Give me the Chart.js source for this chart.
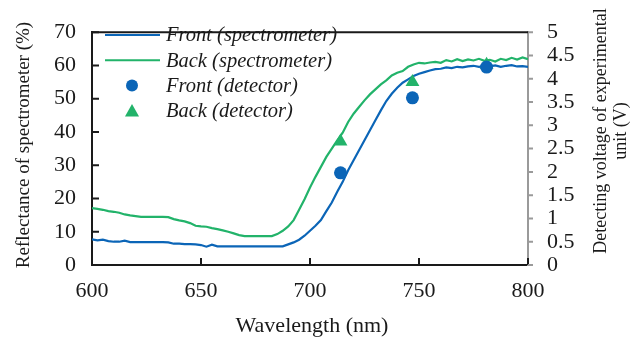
<!DOCTYPE html>
<html>
<head>
<meta charset="utf-8">
<script src="https://cdn.jsdelivr.net/npm/chart.js@4/dist/chart.umd.min.js"></script>
<style>
  html, body { margin: 0; padding: 0; background: #fff; }
  #wrap { width: 640px; height: 343px; }
</style>
</head>
<body>
<div id="wrap"><canvas id="chart" width="640" height="343"></canvas></div>
<script>
// wavelength grid of the spectrometer curves (nm)
const wavelengths = [
  600, 602.5, 605, 607.5, 610, 612.5, 615, 617.5, 620, 622.5,
  625, 627.5, 630, 632.5, 635, 637.5, 640, 642.5, 645, 647.5,
  650, 652.5, 655, 657.5, 660, 662.5, 665, 667.5, 670, 672.5,
  675, 677.5, 680, 682.5, 685, 687.5, 690, 692.5, 695, 697.5,
  700, 702.5, 705, 707.5, 710, 712.5, 715, 717.5, 720, 722.5,
  725, 727.5, 730, 732.5, 735, 737.5, 740, 742.5, 745, 747.5,
  750, 752.5, 755, 757.5, 760, 762.5, 765, 767.5, 770, 772.5,
  775, 777.5, 780, 782.5, 785, 787.5, 790, 792.5, 795, 797.5, 800
];

// reflectance (%)
const frontSpectrometer = [
  7.7, 7.4, 7.6, 7.2, 7.0, 7.0, 7.3, 6.9, 6.9, 6.9,
  6.9, 6.9, 6.9, 6.9, 6.8, 6.4, 6.4, 6.3, 6.3, 6.2,
  6.0, 5.5, 6.1, 5.6, 5.6, 5.6, 5.6, 5.6, 5.6, 5.6,
  5.6, 5.6, 5.6, 5.6, 5.6, 5.6, 6.2, 6.8, 7.6, 8.8,
  10.3, 11.8, 13.5, 16.2, 18.8, 22.0, 25.0, 28.5, 31.5, 34.5,
  37.5, 40.5, 43.5, 46.5, 49.3, 51.5, 53.3, 54.8, 55.8, 56.8,
  57.5, 58.0, 58.5, 58.9, 59.0, 59.4, 59.2, 59.6, 59.4, 59.7,
  59.9, 59.6, 59.8, 59.7, 60.0, 59.6, 59.9, 60.1, 59.7, 59.8, 59.6
];
const backSpectrometer = [
  17.1, 16.9, 16.6, 16.2, 16.0, 15.7, 15.2, 14.9, 14.7, 14.5,
  14.5, 14.5, 14.5, 14.5, 14.4, 13.8, 13.4, 13.1, 12.6, 11.8,
  11.6, 11.5, 11.1, 10.8, 10.4, 10.0, 9.5, 9.0, 8.7, 8.7,
  8.7, 8.7, 8.7, 8.7, 9.3, 10.3, 11.6, 13.5, 16.6, 19.8,
  23.3, 26.5, 29.5, 32.5, 35.0, 37.5, 39.8, 43.0, 45.5, 47.5,
  49.5, 51.3, 52.8, 54.3, 55.5, 57.0, 57.8, 58.3, 59.6, 60.3,
  60.8, 60.6, 60.9, 61.1, 60.8, 61.6, 61.2, 61.9, 61.3, 61.8,
  61.5, 62.0, 61.4, 61.7, 61.2, 62.0, 61.6, 62.3, 61.8, 62.4, 61.9
];

// detector measurements (V)
const detectorWavelengths = [714, 747, 781];
const frontDetector = [1.98, 3.59, 4.25];
const backDetector = [2.65, 3.93, 4.3];

const xTicks = [600, 650, 700, 750, 800];
const blue = '#0b65b7';
const green = '#22b36a';
const serif = "'Liberation Serif', 'Times New Roman', serif";

const toPoints = (xs, ys) => xs.map((x, i) => ({ x: x, y: ys[i] }));

const legendItems = [
  { text: 'Front (spectrometer)', kind: 'line', color: blue },
  { text: 'Back (spectrometer)', kind: 'line', color: green },
  { text: 'Front (detector)', kind: 'circle', color: blue },
  { text: 'Back (detector)', kind: 'triangle', color: green }
];

// frame, inward ticks, titles and legend
const decorations = {
  id: 'decorations',
  afterDraw(chart) {
    const ctx = chart.ctx;
    const a = chart.chartArea;
    const x = chart.scales.x, y = chart.scales.y, y2 = chart.scales.y2;
    ctx.save();

    ctx.strokeStyle = '#1a1a1a';
    ctx.lineWidth = 2;
    ctx.beginPath();
    ctx.moveTo(a.left - 1, a.top);
    ctx.lineTo(a.right, a.top);
    ctx.stroke();

    ctx.beginPath();
    for (let v = 0; v <= 70; v += 10) {
      const py = y.getPixelForValue(v);
      ctx.moveTo(a.left, py);
      ctx.lineTo(a.left + 7, py);
    }
    xTicks.forEach(v => {
      const px = x.getPixelForValue(v);
      ctx.moveTo(px, a.bottom);
      ctx.lineTo(px, a.bottom - 7);
    });
    ctx.stroke();

    ctx.strokeStyle = '#9a9a9a';
    ctx.beginPath();
    for (let v = 0; v <= 5; v += 0.5) {
      const py = y2.getPixelForValue(v);
      ctx.moveTo(a.right, py);
      ctx.lineTo(a.right + 5, py);
    }
    ctx.stroke();

    // axis titles
    ctx.fillStyle = '#1a1a1a';
    ctx.textAlign = 'center';
    ctx.textBaseline = 'middle';
    ctx.font = '22px ' + serif;
    ctx.fillText('Wavelength (nm)', 312, 326);

    ctx.save();
    ctx.translate(24, 145);
    ctx.rotate(-Math.PI / 2);
    ctx.font = '19px ' + serif;
    ctx.fillText('Reflectance of spectrometer (%)', 0, 0);
    ctx.restore();

    ctx.save();
    ctx.translate(601, 131);
    ctx.rotate(-Math.PI / 2);
    ctx.font = '18px ' + serif;
    ctx.fillText('Detecting voltage of experimental', 0, 0);
    ctx.fillText('unit (V)', 0, 20);
    ctx.restore();

    // legend
    ctx.textAlign = 'left';
    ctx.font = 'italic 20.5px ' + serif;
    legendItems.forEach((item, i) => {
      const cy = 35 + i * 25.3;
      ctx.fillStyle = item.color;
      ctx.strokeStyle = item.color;
      if (item.kind === 'line') {
        ctx.lineWidth = 2;
        ctx.beginPath();
        ctx.moveTo(105, cy);
        ctx.lineTo(160, cy);
        ctx.stroke();
      } else if (item.kind === 'circle') {
        ctx.beginPath();
        ctx.arc(132, cy, 6, 0, Math.PI * 2);
        ctx.fill();
      } else {
        ctx.beginPath();
        ctx.moveTo(132, cy - 7);
        ctx.lineTo(139, cy + 5.5);
        ctx.lineTo(125, cy + 5.5);
        ctx.closePath();
        ctx.fill();
      }
      ctx.fillStyle = '#1a1a1a';
      ctx.fillText(item.text, 166, cy + 1);
    });

    ctx.restore();
  }
};

new Chart(document.getElementById('chart'), {
  type: 'scatter',
  data: {
    datasets: [
      {
        label: 'Front (detector)',
        data: toPoints(detectorWavelengths, frontDetector),
        yAxisID: 'y2',
        pointStyle: 'circle',
        pointRadius: 6.5,
        backgroundColor: blue,
        borderColor: blue,
        borderWidth: 0,
        order: 0
      },
      {
        label: 'Back (detector)',
        data: toPoints(detectorWavelengths, backDetector),
        yAxisID: 'y2',
        pointStyle: 'triangle',
        pointRadius: 8,
        backgroundColor: green,
        borderColor: green,
        borderWidth: 0,
        order: 0
      },
      {
        label: 'Back (spectrometer)',
        data: toPoints(wavelengths, backSpectrometer),
        yAxisID: 'y',
        showLine: true,
        pointRadius: 0,
        borderColor: green,
        borderWidth: 2.2,
        order: 1
      },
      {
        label: 'Front (spectrometer)',
        data: toPoints(wavelengths, frontSpectrometer),
        yAxisID: 'y',
        showLine: true,
        pointRadius: 0,
        borderColor: blue,
        borderWidth: 2.2,
        order: 2
      }
    ]
  },
  options: {
    responsive: false,
    animation: false,
    layout: { padding: { top: 15, left: 0, right: 0, bottom: 0 } },
    plugins: {
      legend: { display: false },
      tooltip: { enabled: false }
    },
    scales: {
      x: {
        type: 'linear',
        min: 600,
        max: 800,
        afterFit: s => { s.height = 78; },
        afterBuildTicks: s => { s.ticks = xTicks.map(v => ({ value: v })); },
        ticks: { padding: 13, autoSkip: false, maxRotation: 0, color: '#1a1a1a', font: { family: serif, size: 22 } },
        grid: { display: false, drawTicks: false },
        border: { display: true, color: '#1a1a1a', width: 2 }
      },
      y: {
        position: 'left',
        min: 0,
        max: 70,
        afterFit: s => { s.width = 92; },
        ticks: { stepSize: 10, padding: 16, autoSkip: false, color: '#1a1a1a', font: { family: serif, size: 22 } },
        grid: { display: false, drawTicks: false },
        border: { display: true, color: '#1a1a1a', width: 2 }
      },
      y2: {
        position: 'right',
        min: 0,
        max: 5,
        afterFit: s => { s.width = 112; },
        ticks: {
          stepSize: 0.5,
          padding: 19,
          autoSkip: false,
          color: '#1a1a1a',
          font: { family: serif, size: 22 },
          callback: v => String(v)
        },
        grid: { display: false, drawTicks: false },
        border: { display: true, color: '#9a9a9a', width: 2 }
      }
    }
  },
  plugins: [decorations]
});
</script>
</body>
</html>
